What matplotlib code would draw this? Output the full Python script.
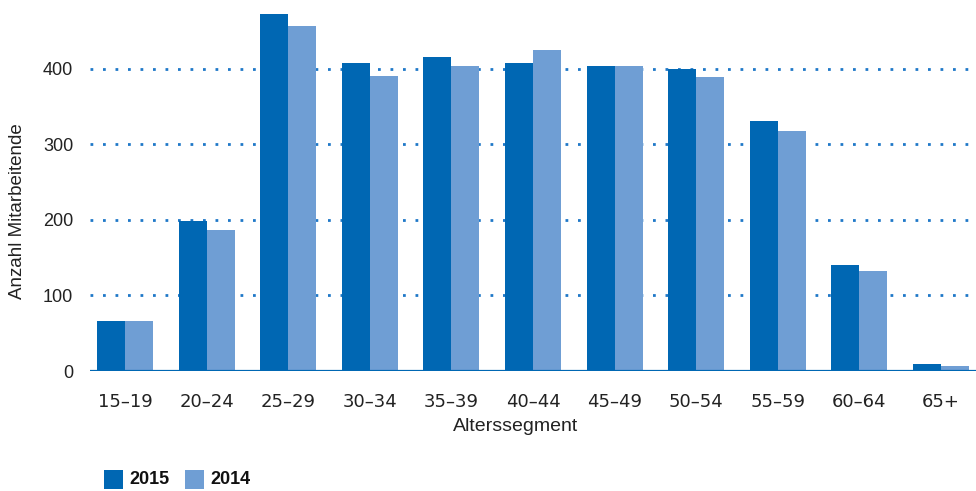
import matplotlib
matplotlib.use("Agg")
import matplotlib.pyplot as plt
import numpy as np
from matplotlib.patches import Rectangle

categories = ["15\u201319", "20\u201324", "25\u201329", "30\u201334", "35\u201339", "40\u201344",
              "45\u201349", "50\u201354", "55\u201359", "60\u201364", "65+"]
values_2015 = [66, 198, 473, 407, 415, 408, 404, 400, 331, 140, 9]
values_2014 = [66, 186, 457, 391, 403, 425, 404, 389, 318, 132, 7]
series_labels = ["2015", "2014"]
yticks = [0, 100, 200, 300, 400]

c15 = "#0067B3"
c14 = "#6F9ED4"
grid_c = "#1F78C8"
txt_c = "#222222"

plt.rcParams['font.family'] = ['Liberation Sans', 'DejaVu Sans']

fig = plt.figure(figsize=(9.76, 4.91), dpi=100)
ax = fig.add_axes([90/976, 120/491, 886/976, 371/491])

x = np.arange(len(categories))
w = 0.343
ax.bar(x - w/2, values_2015, width=w, color=c15, zorder=3, linewidth=0)
ax.bar(x + w/2, values_2014, width=w, color=c14, zorder=3, linewidth=0)

ax.set_xlim(-0.43, len(categories) - 1 + 0.43)
ax.set_ylim(0, 491)

for yv in yticks[1:]:
    ax.axhline(yv, color=grid_c, linestyle=(0, (1, 3.5)), linewidth=2, zorder=1)
ax.axhline(0, color=c15, linewidth=1.6, zorder=4)

for s in ax.spines.values():
    s.set_visible(False)

ax.set_yticks(yticks)
ax.set_yticklabels([str(v) for v in yticks], fontsize=13, color=txt_c)
ax.set_xticks(x)
ax.set_xticklabels(categories, fontsize=13, color=txt_c, family=['DejaVu Sans'])
ax.tick_params(axis='both', length=0)
ax.tick_params(axis='y', pad=12)
ax.tick_params(axis='x', pad=16)

ax.set_xlabel("Alterssegment", fontsize=14, color=txt_c)
ax.xaxis.set_label_coords((516 - 90) / 886, -47 / 371)
ax.set_ylabel("Anzahl Mitarbeitende", fontsize=13.5, color=txt_c)
ax.yaxis.set_label_coords(-64 / 886, (371 - 211) / 371)

# legend
fig.patches.append(Rectangle((104/976, 2/491), 19/976, 19/491, transform=fig.transFigure,
                             facecolor=c15, edgecolor='none'))
fig.text(129/976, 11.5/491, series_labels[0], fontsize=13, fontweight='bold', va='center', color="#111111")
fig.patches.append(Rectangle((185/976, 2/491), 19/976, 19/491, transform=fig.transFigure,
                             facecolor=c14, edgecolor='none'))
fig.text(210/976, 11.5/491, series_labels[1], fontsize=13, fontweight='bold', va='center', color="#111111")

fig.savefig("out.png", dpi=100)
